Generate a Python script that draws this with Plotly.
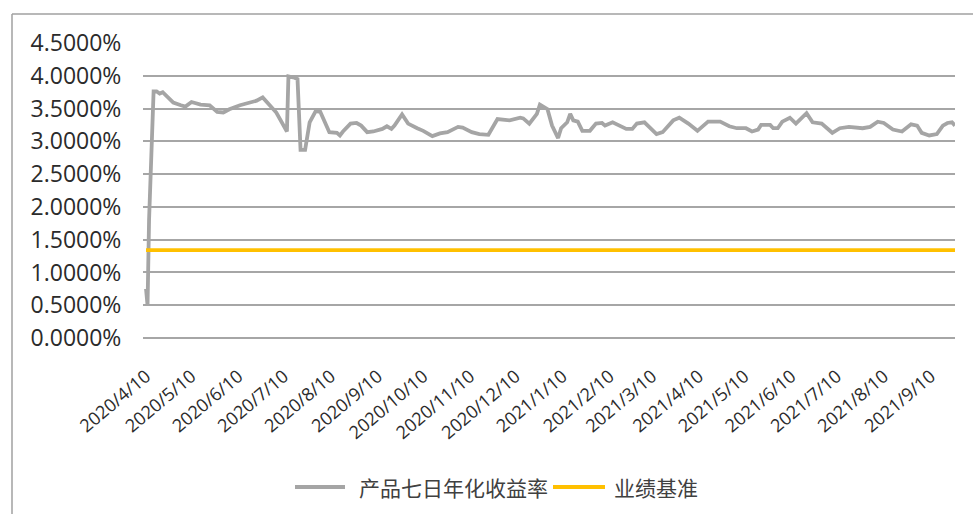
import plotly.graph_objects as go

# 产品七日年化收益率 (%)
dates = [
    "2020-04-10", "2020-04-11", "2020-04-12", "2020-04-13", "2020-04-14", "2020-04-15",
    "2020-04-17", "2020-04-19", "2020-04-21", "2020-04-28", "2020-05-03", "2020-05-06",
    "2020-05-10", "2020-05-16", "2020-05-22", "2020-05-27", "2020-05-31", "2020-06-04",
    "2020-06-11", "2020-06-18", "2020-06-22", "2020-06-26", "2020-07-01", "2020-07-05",
    "2020-07-12", "2020-07-13", "2020-07-17", "2020-07-19", "2020-07-21", "2020-07-24",
    "2020-07-27", "2020-07-31", "2020-08-03", "2020-08-09", "2020-08-14", "2020-08-16",
    "2020-08-18", "2020-08-23", "2020-08-27", "2020-08-30", "2020-09-03", "2020-09-07",
    "2020-09-13", "2020-09-16", "2020-09-19", "2020-09-21", "2020-09-26", "2020-09-30",
    "2020-10-06", "2020-10-10", "2020-10-16", "2020-10-21", "2020-10-26", "2020-11-02",
    "2020-11-05", "2020-11-11", "2020-11-16", "2020-11-22", "2020-11-28", "2020-12-06",
    "2020-12-13", "2020-12-15", "2020-12-19", "2020-12-24", "2020-12-26", "2020-12-31",
    "2021-01-03", "2021-01-07", "2021-01-09", "2021-01-13", "2021-01-15", "2021-01-17",
    "2021-01-20", "2021-01-23", "2021-01-28", "2021-02-01", "2021-02-05", "2021-02-07",
    "2021-02-12", "2021-02-17", "2021-02-21", "2021-02-25", "2021-02-28", "2021-03-05",
    "2021-03-13", "2021-03-17", "2021-03-24", "2021-03-28", "2021-04-03", "2021-04-09",
    "2021-04-16", "2021-04-24", "2021-04-30", "2021-05-05", "2021-05-11", "2021-05-15",
    "2021-05-19", "2021-05-21", "2021-05-27", "2021-05-29", "2021-06-01", "2021-06-04",
    "2021-06-09", "2021-06-13", "2021-06-20", "2021-06-24", "2021-06-30", "2021-07-07",
    "2021-07-12", "2021-07-18", "2021-07-27", "2021-08-01", "2021-08-06", "2021-08-10",
    "2021-08-16", "2021-08-22", "2021-08-28", "2021-09-01", "2021-09-04", "2021-09-09",
    "2021-09-14", "2021-09-18", "2021-09-21", "2021-09-24", "2021-09-26",
]
yield_7d = [
    0.75, 0.50, 1.80, 2.40, 3.20, 3.76,
    3.76, 3.73, 3.75, 3.59, 3.55, 3.53,
    3.60, 3.56, 3.55, 3.45, 3.44, 3.49,
    3.55, 3.60, 3.62, 3.67, 3.53, 3.44,
    3.15, 3.99, 3.97, 3.95, 2.87, 2.87,
    3.29, 3.46, 3.45, 3.14, 3.13, 3.09,
    3.15, 3.27, 3.28, 3.24, 3.14, 3.15,
    3.19, 3.23, 3.19, 3.24, 3.41, 3.27,
    3.20, 3.16, 3.08, 3.12, 3.14, 3.22,
    3.21, 3.14, 3.11, 3.10, 3.34, 3.32,
    3.36, 3.35, 3.27, 3.42, 3.56, 3.49,
    3.24, 3.05, 3.20, 3.29, 3.42, 3.32,
    3.30, 3.16, 3.16, 3.27, 3.28, 3.24,
    3.29, 3.24, 3.19, 3.19, 3.27, 3.29,
    3.11, 3.14, 3.32, 3.36, 3.27, 3.16,
    3.30, 3.30, 3.23, 3.20, 3.20, 3.15,
    3.18, 3.25, 3.25, 3.20, 3.20, 3.30,
    3.36, 3.27, 3.43, 3.29, 3.27, 3.13,
    3.20, 3.22, 3.20, 3.22, 3.30, 3.28,
    3.18, 3.15, 3.26, 3.24, 3.13, 3.09,
    3.11, 3.24, 3.28, 3.29, 3.24,
]

# 业绩基准 (%)
benchmark_value = 1.34

tick_dates = [
    "2020-04-10", "2020-05-10", "2020-06-10", "2020-07-10", "2020-08-10", "2020-09-10",
    "2020-10-10", "2020-11-10", "2020-12-10", "2021-01-10", "2021-02-10", "2021-03-10",
    "2021-04-10", "2021-05-10", "2021-06-10", "2021-07-10", "2021-08-10", "2021-09-10",
]
tick_labels = [
    "2020/4/10", "2020/5/10", "2020/6/10", "2020/7/10", "2020/8/10", "2020/9/10",
    "2020/10/10", "2020/11/10", "2020/12/10", "2021/1/10", "2021/2/10", "2021/3/10",
    "2021/4/10", "2021/5/10", "2021/6/10", "2021/7/10", "2021/8/10", "2021/9/10",
]
y_ticks = [0, 0.5, 1.0, 1.5, 2.0, 2.5, 3.0, 3.5, 4.0, 4.5]
y_tick_labels = ["0.0000%", "0.5000%", "1.0000%", "1.5000%", "2.0000%",
                 "2.5000%", "3.0000%", "3.5000%", "4.0000%", "4.5000%"]

series_names = ["产品七日年化收益率", "业绩基准"]
series_colors = ["#a5a5a5", "#ffc000"]

W, H = 973, 514
ML, MR, MT, MB = 143, 18, 43, 176
PW, PH = W - ML - MR, H - MT - MB

GRID = "#a6a6a6"
TEXT = "#2b2b2b"
FONT = "Open Sans, Noto Sans CJK SC, sans-serif"
CJK_FONT = "Noto Sans CJK SC, sans-serif"

fig = go.Figure()
fig.add_trace(go.Scatter(
    x=dates, y=yield_7d, mode="lines", name=series_names[0],
    line=dict(color=series_colors[0], width=3.8), showlegend=False,
))
fig.add_trace(go.Scatter(
    x=[dates[0], dates[-1]], y=[benchmark_value, benchmark_value], mode="lines",
    name=series_names[1], line=dict(color=series_colors[1], width=3.8), showlegend=False,
))


def px_x(p):
    return (p - ML) / PW


def px_y(p):
    return (H - MB - p) / PH


# outer chart frame (left and top edges)
frame = dict(type="line", xref="paper", yref="paper",
             line=dict(color="#a0a0a0", width=1.5), layer="above")
fig.add_shape(**frame, x0=px_x(12), x1=px_x(12), y0=px_y(14), y1=px_y(530))
fig.add_shape(**frame, x0=px_x(12), x1=px_x(990), y0=px_y(14), y1=px_y(14))

# legend drawn below the plot: line sample followed by the series name
legend_y = px_y(487)
legend_items = [(295, 345, 357), (553, 605, 612)]
for (x0, x1, tx), name, color in zip(legend_items, series_names, series_colors):
    fig.add_shape(type="line", xref="paper", yref="paper",
                  x0=px_x(x0), x1=px_x(x1), y0=legend_y, y1=legend_y,
                  line=dict(color=color, width=3.8))
    fig.add_annotation(xref="paper", yref="paper", x=px_x(tx), y=legend_y,
                       xanchor="left", yanchor="middle", showarrow=False,
                       text=name, font=dict(family=CJK_FONT, size=21, color="#404040"))

fig.update_layout(
    width=W, height=H,
    margin=dict(l=ML, r=MR, t=MT, b=MB, autoexpand=False),
    paper_bgcolor="white", plot_bgcolor="white",
    font=dict(family=FONT, size=22, color=TEXT),
    showlegend=False,
    xaxis=dict(
        type="date", range=["2020-04-08", "2021-09-26"],
        tickvals=tick_dates, ticktext=tick_labels, tickangle=-40,
        showgrid=False, showline=False, zeroline=False,
        ticks="outside", ticklen=20, tickcolor="rgba(0,0,0,0)",
        tickfont=dict(size=18),
    ),
    yaxis=dict(
        range=[0, 4.5], tickvals=y_ticks, ticktext=y_tick_labels,
        showgrid=True, gridcolor=GRID, gridwidth=2,
        zeroline=True, zerolinecolor=GRID, zerolinewidth=2,
        showline=False, ticks="outside", ticklen=16, tickcolor="rgba(0,0,0,0)",
        tickfont=dict(size=23),
    ),
)

fig.write_html("out.html")
